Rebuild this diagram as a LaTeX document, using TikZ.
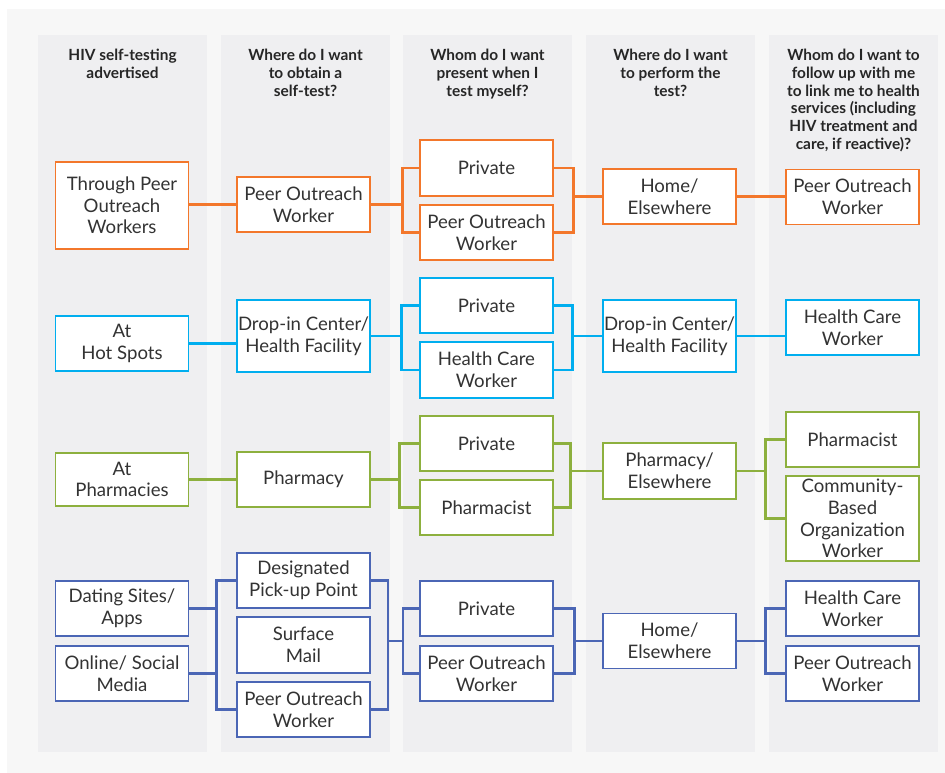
\documentclass[tikz,border=0pt]{standalone}
\usepackage{fontspec}
\setmainfont{Lato}
\usepackage{xcolor}
\definecolor{outerbg}{HTML}{F7F7F7}
\definecolor{colbg}{HTML}{EFEFF1}
\definecolor{txt}{HTML}{333333}
\definecolor{orangeln}{HTML}{F3772B}
\definecolor{cyanln}{HTML}{00AEEF}
\definecolor{greenln}{HTML}{8DB03E}
\definecolor{blueln}{HTML}{4B66B5}

\begin{document}
\begin{tikzpicture}[x=1pt, y=-1pt,
  box/.style={draw=#1, fill=white, line width=1.6pt, minimum width=133pt, minimum height=55pt,
    inner xsep=1pt, inner ysep=0pt, align=center, text=txt, font=\fontsize{18.6}{21.7}\selectfont},
  head/.style={anchor=north, align=center, inner sep=0pt, text=black!85,
    font=\bfseries\fontsize{15.4}{17.7}\selectfont},
  link/.style={draw=#1, line width=2.8pt}]
  \useasboundingbox (0,0) rectangle (945,773);
  \fill[white] (0,0) rectangle (945,773);
  \fill[outerbg] (7,9) rectangle (945,773);
  \foreach \cx in {38,221,403,586,769}
    \fill[colbg] (\cx,35) rectangle ++(169,717);

  \node[head] (h1) at (122.5,49) {HIV self-testing\\advertised};
  \node[head] (h2) at (305.5,49) {Where do I want\\to obtain a\\self-test?};
  \node[head] (h3) at (487.5,49) {Whom do I want\\present when I\\test myself?};
  \node[head] (h4) at (670.5,49) {Where do I want\\to perform the\\test?};
  \node[head] (h5) at (853.5,49) {Whom do I want to\\follow up with me\\to link me to health\\services (including\\HIV treatment and\\care, if reactive)?};

  % peer outreach
  \node[box=orangeln, minimum height=87pt] (r1a) at (122,205.5) {Through Peer\\Outreach\\Workers};
  \node[box=orangeln] (r1b) at (303.5,204.5) {Peer Outreach\\Worker};
  \node[box=orangeln, minimum height=56pt] (r1c1) at (486.5,168) {Private};
  \node[box=orangeln] (r1c2) at (486.5,232.5) {Peer Outreach\\Worker};
  \node[box=orangeln] (r1d) at (669.5,196.5) {Home/\\Elsewhere};
  \node[box=orangeln] (r1e) at (852.5,197) {Peer Outreach\\Worker};
  \draw[link=orangeln] (r1b.west) -- (r1b.west -| r1a.east);
  \draw[link=orangeln] (r1b.east) -| ([xshift=-17pt]r1c1.west) -- (r1c1.west);
  \draw[link=orangeln] (r1b.east) -| ([xshift=-17pt]r1c2.west) -- (r1c2.west);
  \draw[link=orangeln] (r1d.west) -| ([xshift=20pt]r1c1.east) -- (r1c1.east);
  \draw[link=orangeln] (r1d.west) -| ([xshift=20pt]r1c2.east) -- (r1c2.east);
  \draw[link=orangeln] (r1d.east) -- (r1d.east -| r1e.west);

  % hot spots
  \node[box=cyanln] (r2a) at (122,343.5) {At\\Hot Spots};
  \node[box=cyanln, minimum height=72pt] (r2b) at (303.5,336) {Drop-in Center/\\Health Facility};
  \node[box=cyanln] (r2c1) at (486.5,305.5) {Private};
  \node[box=cyanln, minimum height=56pt] (r2c2) at (486.5,370) {Health Care\\Worker};
  \node[box=cyanln, minimum height=72pt] (r2d) at (669.5,336) {Drop-in Center/\\Health Facility};
  \node[box=cyanln] (r2e) at (852.5,327.5) {Health Care\\Worker};
  \draw[link=cyanln] (r2a.east) -- (r2a.east -| r2b.west);
  \draw[link=cyanln] (r2b.east) -| ([xshift=-18pt]r2c1.west) -- (r2c1.west);
  \draw[link=cyanln] (r2b.east) -| ([xshift=-18pt]r2c2.west) -- (r2c2.west);
  \draw[link=cyanln] (r2d.west) -| ([xshift=19pt]r2c1.east) -- (r2c1.east);
  \draw[link=cyanln] (r2d.west) -| ([xshift=19pt]r2c2.east) -- (r2c2.east);
  \draw[link=cyanln] (r2d.east) -- (r2d.east -| r2e.west);

  % pharmacies
  \node[box=greenln, minimum height=53pt] (r3a) at (122,479.5) {At\\Pharmacies};
  \node[box=greenln] (r3b) at (303.5,479.5) {Pharmacy};
  \node[box=greenln] (r3c1) at (486.5,443.5) {Private};
  \node[box=greenln] (r3c2) at (486.5,507.5) {Pharmacist};
  \node[box=greenln, minimum height=56pt] (r3d) at (669.5,471) {Pharmacy/\\Elsewhere};
  \node[box=greenln] (r3e1) at (852.5,439.5) {Pharmacist};
  \node[box=greenln, minimum height=85pt] (r3e2) at (852.5,518.5) {Community-\\Based\\Organization\\Worker};
  \draw[link=greenln] (r3a.east) -- (r3a.east -| r3b.west);
  \draw[link=greenln] (r3b.east) -| ([xshift=-20pt]r3c1.west) -- (r3c1.west);
  \draw[link=greenln] (r3b.east) -| ([xshift=-20pt]r3c2.west) -- (r3c2.west);
  \draw[link=greenln] (r3d.west) -| ([xshift=17pt]r3c1.east) -- (r3c1.east);
  \draw[link=greenln] (r3d.west) -| ([xshift=17pt]r3c2.east) -- (r3c2.east);
  \draw[link=greenln] (r3d.east) -| ([xshift=-20pt]r3e1.west) -- (r3e1.west);
  \draw[link=greenln] (r3d.east) -| ([xshift=-20pt]r3e2.west) -- (r3e2.west);

  % online
  \node[box=blueln] (r4a1) at (122,608.5) {Dating Sites/\\Apps};
  \node[box=blueln] (r4a2) at (122,673.5) {Online/ Social\\Media};
  \node[box=blueln] (r4b1) at (303.5,580.5) {Designated\\Pick-up Point};
  \node[box=blueln, minimum height=56pt] (r4b2) at (303.5,645) {Surface\\Mail};
  \node[box=blueln] (r4b3) at (303.5,709.5) {Peer Outreach\\Worker};
  \node[box=blueln] (r4c1) at (486.5,608.5) {Private};
  \node[box=blueln] (r4c2) at (486.5,673.5) {Peer Outreach\\Worker};
  \node[box=blueln] (r4d) at (669.5,641) {Home/\\Elsewhere};
  \node[box=blueln] (r4e1) at (852.5,608.5) {Health Care\\Worker};
  \node[box=blueln] (r4e2) at (852.5,673.5) {Peer Outreach\\Worker};
  \coordinate (f4l) at (388,641);
  \coordinate (f4r) at (403,641);
  \draw[link=blueln] (r4a1.east) -| ([xshift=-20pt]r4b1.west) -- (r4b1.west);
  \draw[link=blueln] (r4a2.east) -| ([xshift=-20pt]r4b3.west) -- (r4b3.west);
  \draw[link=blueln] ([xshift=-20pt]r4b1.west) -- ([xshift=-20pt]r4b3.west);
  \draw[link=blueln] (r4b1.east) -| (f4l) -- (f4r) |- (r4c1.west);
  \draw[link=blueln] (r4b3.east) -| (f4l);
  \draw[link=blueln] (f4r) |- (r4c2.west);
  \draw[link=blueln] (r4d.west) -| ([xshift=21pt]r4c1.east) -- (r4c1.east);
  \draw[link=blueln] (r4d.west) -| ([xshift=21pt]r4c2.east) -- (r4c2.east);
  \draw[link=blueln] (r4d.east) -| ([xshift=-20pt]r4e1.west) -- (r4e1.west);
  \draw[link=blueln] (r4d.east) -| ([xshift=-20pt]r4e2.west) -- (r4e2.west);
\end{tikzpicture}
\end{document}
